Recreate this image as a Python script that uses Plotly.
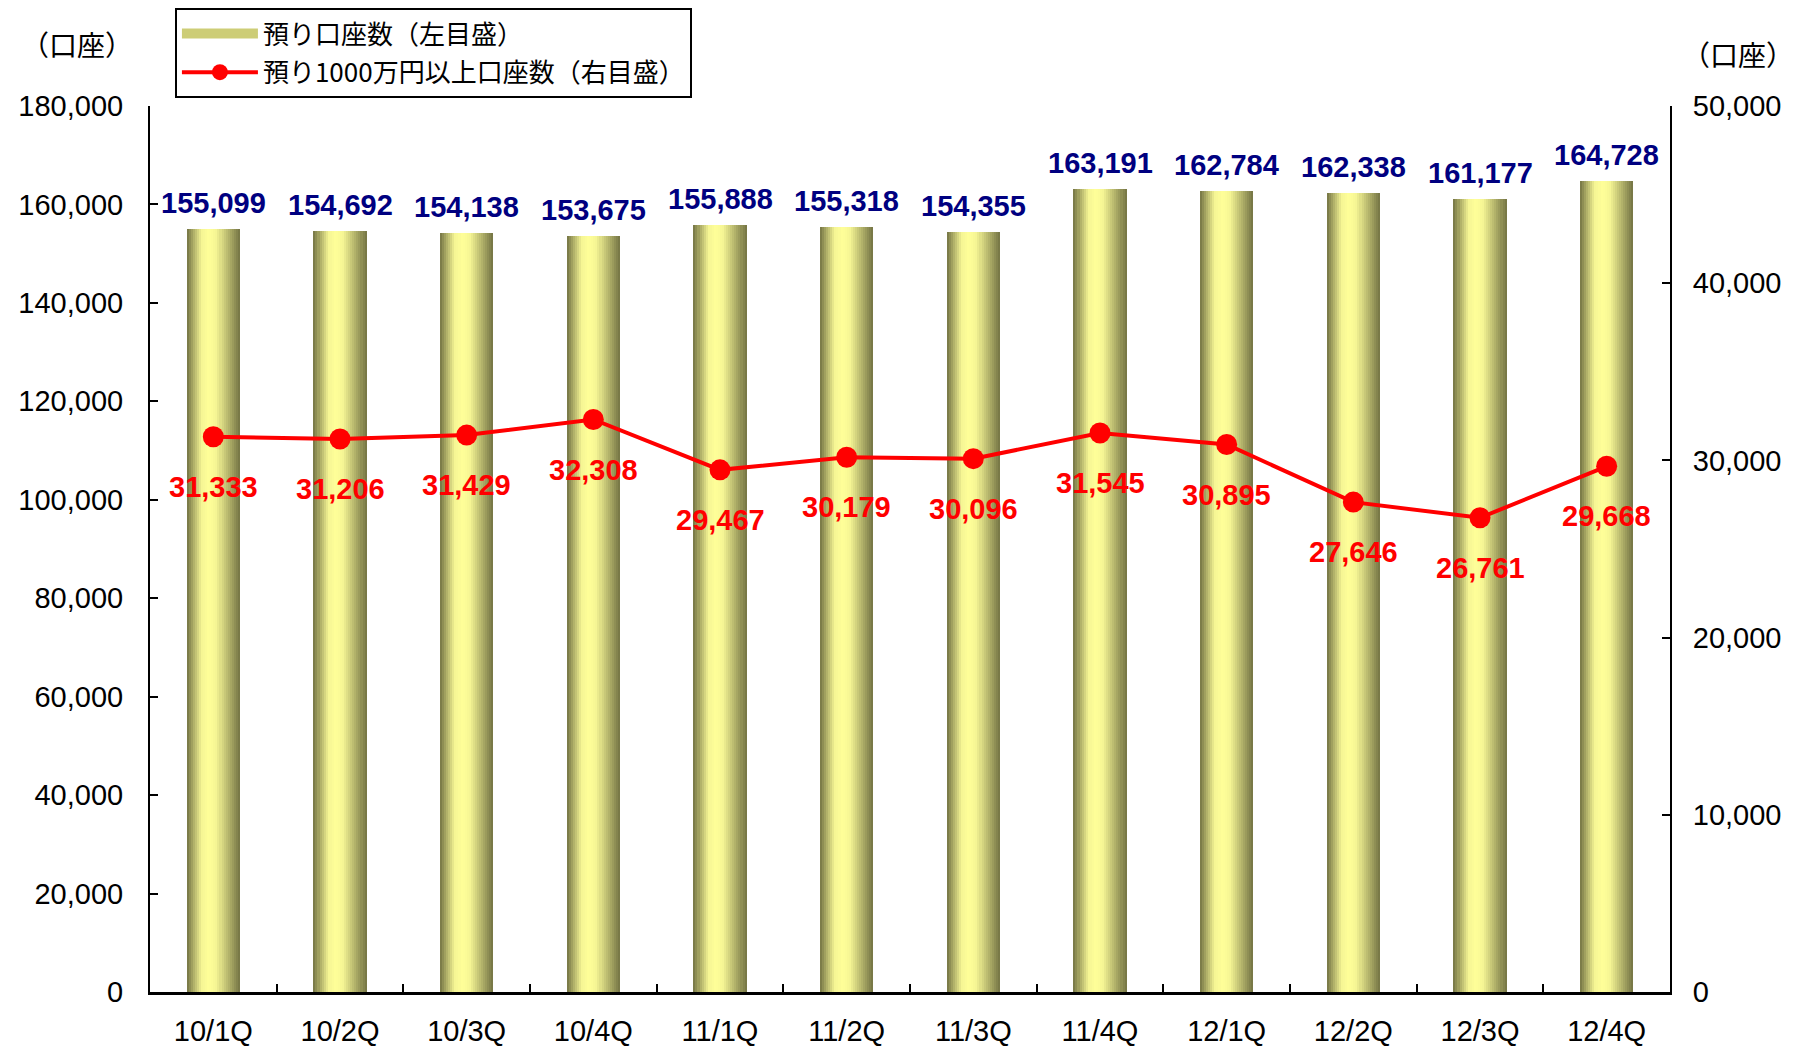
import plotly.graph_objects as go

categories = ["10/1Q", "10/2Q", "10/3Q", "10/4Q", "11/1Q", "11/2Q",
              "11/3Q", "11/4Q", "12/1Q", "12/2Q", "12/3Q", "12/4Q"]
accounts = [155099, 154692, 154138, 153675, 155888, 155318,
            154355, 163191, 162784, 162338, 161177, 164728]
accounts_10m = [31333, 31206, 31429, 32308, 29467, 30179,
                30096, 31545, 30895, 27646, 26761, 29668]

bar_name = "預り口座数（左目盛）"
line_name = "預り1000万円以上口座数（右目盛）"
unit_label = "（口座）"

FONT = "Liberation Sans, Arial, Noto Sans CJK JP, sans-serif"
JFONT = "Noto Sans CJK JP, Liberation Sans, sans-serif"

# horizontal gradient profile for the cylinders
stops = [(0.0, (115, 115, 68)), (0.28, (245, 245, 148)), (0.42, (255, 255, 153)),
         (0.56, (245, 245, 148)), (1.0, (115, 115, 68))]


def grad(t):
    for (t0, c0), (t1, c1) in zip(stops[:-1], stops[1:]):
        if t0 <= t <= t1:
            f = (t - t0) / (t1 - t0)
            return "rgb(%d,%d,%d)" % tuple(round(a + (b - a) * f) for a, b in zip(c0, c1))
    return "rgb(%d,%d,%d)" % stops[-1][1]


fig = go.Figure()

N = 26
W = 0.42
for i in range(N):
    t = (i + 0.5) / N
    fig.add_trace(go.Bar(
        x=categories, y=accounts,
        width=[W / N * 1.08] * len(categories),
        offset=[-W / 2 + i * W / N] * len(categories),
        marker=dict(color=grad(t), line=dict(width=0)),
        name=bar_name, legendgroup="bar",
        showlegend=False,
        hoverinfo="skip" if i != N // 2 else None,
        yaxis="y",
    ))

# legend swatch for the bars
fig.add_trace(go.Scatter(
    x=[None], y=[None], mode="lines", name=bar_name, legendgroup="bar",
    line=dict(color="rgb(205,205,118)", width=16), hoverinfo="skip",
))

fig.add_trace(go.Scatter(
    x=categories, y=accounts_10m, yaxis="y2",
    mode="lines+markers", name=line_name, legendgroup="line",
    line=dict(color="#FF0000", width=4),
    marker=dict(color="#FF0000", size=21),
))

annotations = []
for c, v in zip(categories, accounts):
    annotations.append(dict(
        x=c, y=v, xref="x", yref="y", text=f"{v:,}", showarrow=False,
        yanchor="bottom", yshift=8,
        font=dict(family=FONT, size=29, color="#000080", weight="bold"),
    ))
for c, v in zip(categories, accounts_10m):
    annotations.append(dict(
        x=c, y=v, xref="x", yref="y2", text=f"{v:,}", showarrow=False,
        yanchor="middle", yshift=-50,
        font=dict(family=FONT, size=29, color="#FF0000", weight="bold"),
    ))
annotations.append(dict(
    x=-0.048, y=1.070, xref="paper", yref="paper", text=unit_label,
    showarrow=False, xanchor="center", yanchor="middle",
    font=dict(family=JFONT, size=28, color="black"),
))
annotations.append(dict(
    x=1.045, y=1.0587, xref="paper", yref="paper", text=unit_label,
    showarrow=False, xanchor="center", yanchor="middle",
    font=dict(family=JFONT, size=28, color="black"),
))

fig.update_layout(
    width=1800, height=1051,
    margin=dict(l=150, r=130, t=106, b=59, autoexpand=False),
    paper_bgcolor="white", plot_bgcolor="white",
    barmode="overlay", bargap=0,
    font=dict(family=FONT, size=29, color="black"),
    showlegend=True,
    legend=dict(
        x=0.0164, y=1.1106, xanchor="left", yanchor="top",
        bordercolor="black", borderwidth=2, bgcolor="white",
        font=dict(family=JFONT, size=26, color="black"),
        traceorder="grouped", tracegroupgap=2, itemwidth=76,
    ),
    xaxis=dict(
        type="category", range=[-0.5, len(categories) - 0.5],
        showline=True, linecolor="black", linewidth=3,
        ticks="inside", tickson="boundaries", ticklen=8, tickwidth=2, tickcolor="black",
        showgrid=False, zeroline=False, automargin=False,
        ticklabelstandoff=11,
        tickfont=dict(family=FONT, size=29, color="black"),
    ),
    yaxis=dict(
        range=[0, 180000], dtick=20000, tickformat=",",
        showline=True, linecolor="black", linewidth=2,
        ticks="inside", ticklen=8, tickwidth=2, tickcolor="black",
        showgrid=False, zeroline=False, automargin=False,
        ticklabelstandoff=19,
        tickfont=dict(family=FONT, size=29, color="black"),
    ),
    yaxis2=dict(
        range=[0, 50000], dtick=10000, tickformat=",",
        overlaying="y", side="right",
        showline=True, linecolor="black", linewidth=2,
        ticks="inside", ticklen=8, tickwidth=2, tickcolor="black",
        showgrid=False, zeroline=False, automargin=False,
        ticklabelstandoff=15,
        tickfont=dict(family=FONT, size=29, color="black"),
    ),
    annotations=annotations,
)

fig.write_html(
    "out.html",
    config={"displayModeBar": False},
    post_script="document.body.style.margin='0';document.documentElement.style.overflow='hidden';",
)
